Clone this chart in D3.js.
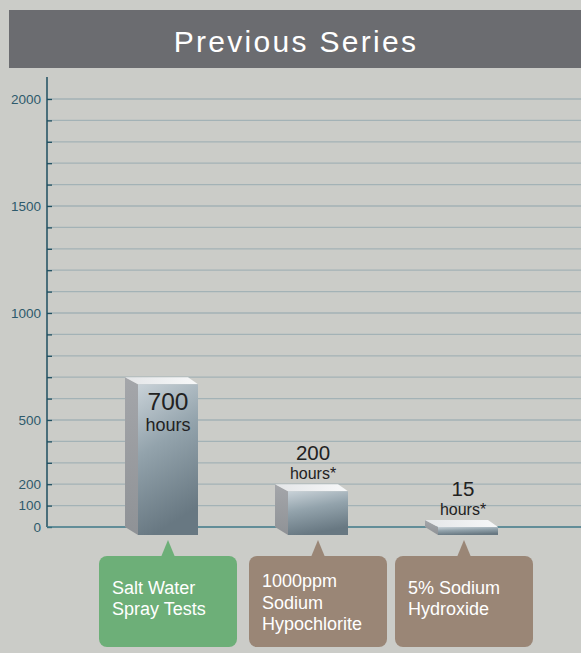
<!DOCTYPE html>
<html>
<head>
<meta charset="utf-8">
<script src="https://cdn.jsdelivr.net/npm/d3@7"></script>
<style>
  html, body { margin: 0; padding: 0; background: #cbccc8; }
  svg { display: block; }
</style>
</head>
<body>
<svg id="chart" width="581" height="653"></svg>
<script>
// ---- data ----
const categories = ["Salt Water Spray Tests", "1000ppm Sodium Hypochlorite", "5% Sodium Hydroxide"];
const values = [700, 200, 15];
const valueLabels = ["700", "200", "15"];
const unitLabels = ["hours", "hours*", "hours*"];
const calloutLines = [["Salt Water", "Spray Tests"], ["1000ppm", "Sodium", "Hypochlorite"], ["5% Sodium", "Hydroxide"]];
const tickLabels = [0, 100, 200, 500, 1000, 1500, 2000];
const title = "Previous Series";

// ---- setup ----
const W = 581, H = 653;
const svg = d3.select("#chart");
const axisX = 47;
const y = d3.scaleLinear().domain([0, 2000]).range([527, 99]);
const x = d3.scaleBand().domain(categories).range([93, 543]).paddingInner(0.6).paddingOuter(0.3);
const depthL = 13, depthR = 10, depthY = 7, minFront = 8;
const fontF = "Liberation Sans, Arial, sans-serif";

// background
svg.append("rect").attr("width", W).attr("height", H).attr("fill", "#cbccc8");

// title bar
svg.append("rect").attr("x", 9).attr("y", 10).attr("width", W - 9).attr("height", 58).attr("fill", "#6b6c70");
svg.append("text").attr("x", 296).attr("y", 52).attr("text-anchor", "middle")
  .attr("font-family", fontF).attr("font-size", 30)
  .attr("letter-spacing", 2.3).attr("fill", "#ffffff").text(title);

// gridlines every 100
const gridVals = d3.range(100, 2001, 100);
svg.append("g").selectAll("line").data(gridVals).join("line")
  .attr("x1", axisX).attr("x2", W)
  .attr("y1", d => y(d)).attr("y2", d => y(d))
  .attr("stroke", "#a3b2b6").attr("stroke-width", 1.3);

// axis with minor ticks every 100 (ticks on inner side)
const axis = d3.axisRight(y).tickValues(d3.range(0, 2001, 100)).tickSize(5).tickFormat("");
const ag = svg.append("g").attr("transform", `translate(${axisX},0)`).call(axis);
ag.select(".domain").remove();
ag.selectAll(".tick line").attr("stroke", "#1f4f60").attr("stroke-width", 1.3);
svg.append("line").attr("x1", axisX).attr("x2", axisX).attr("y1", 77).attr("y2", y(0))
  .attr("stroke", "#1f4f60").attr("stroke-width", 1.5);

// tick labels
const lg = svg.append("g").attr("transform", `translate(${axisX - 6},0)`)
  .call(d3.axisLeft(y).tickValues(tickLabels).tickSize(0).tickPadding(0).tickFormat(d3.format("d")));
lg.select(".domain").remove();
lg.selectAll("text").attr("font-family", fontF)
  .attr("font-size", 13.5).attr("fill", "#2e5a6c");

// baseline
svg.append("line").attr("x1", axisX).attr("x2", W).attr("y1", y(0)).attr("y2", y(0))
  .attr("stroke", "#3f7888").attr("stroke-width", 1.6);

// gradients
const defs = svg.append("defs");
const gf = defs.append("linearGradient").attr("id", "front").attr("x1", 0).attr("y1", 0).attr("x2", 0.25).attr("y2", 1);
gf.append("stop").attr("offset", "0%").attr("stop-color", "#c9d2d8");
gf.append("stop").attr("offset", "45%").attr("stop-color", "#93a3ac");
gf.append("stop").attr("offset", "100%").attr("stop-color", "#687882");
const gs = defs.append("linearGradient").attr("id", "side").attr("x1", 0).attr("y1", 0).attr("x2", 0).attr("y2", 1);
gs.append("stop").attr("offset", "0%").attr("stop-color", "#a4a6aa");
gs.append("stop").attr("offset", "100%").attr("stop-color", "#8f9296");
const gt = defs.append("linearGradient").attr("id", "top").attr("x1", 0).attr("y1", 0).attr("x2", 1).attr("y2", 0);
gt.append("stop").attr("offset", "0%").attr("stop-color", "#e4e6e8");
gt.append("stop").attr("offset", "100%").attr("stop-color", "#f7f8f9");

// bars
const y0f = y(0) + depthY + 1;
const frontTop = v => Math.min(y(v) + depthY, y0f - minFront);
const bars = svg.append("g").selectAll("g").data(categories).join("g");
bars.each(function(c, i) {
  const g = d3.select(this);
  const x0 = x(c), x1 = x(c) + x.bandwidth();
  const yf = frontTop(values[i]);   // front top
  const yb = yf - depthY;           // back top
  const y0b = y(0);
  g.append("path").attr("d", `M${x0 - depthL},${yb} L${x0},${yf} L${x0},${y0f} L${x0 - depthL},${y0b} Z`)
    .attr("fill", "url(#side)");
  g.append("path").attr("d", `M${x0 - depthL},${yb} L${x1 - depthR},${yb} L${x1},${yf} L${x0},${yf} Z`)
    .attr("fill", "url(#top)");
  g.append("rect").attr("x", x0).attr("y", yf).attr("width", x1 - x0).attr("height", y0f - yf)
    .attr("fill", "url(#front)");
});

// value labels
bars.each(function(c, i) {
  const g = d3.select(this);
  const yf = frontTop(values[i]);
  const inside = i === 0;
  const cx = x(c) + x.bandwidth() / 2 - (inside ? 0 : 5);
  const yNum = inside ? yf + 26 : yf - 31;
  const yUnit = inside ? yf + 47 : yf - 12;
  g.append("text").attr("x", cx).attr("y", yNum).attr("text-anchor", "middle")
    .attr("font-family", fontF).attr("font-size", inside ? 24.5 : 20.5).attr("fill", "#222")
    .text(valueLabels[i]);
  g.append("text").attr("x", cx).attr("y", yUnit).attr("text-anchor", "middle")
    .attr("font-family", fontF).attr("font-size", inside ? 18 : 16).attr("fill", "#222")
    .text(unitLabels[i]);
});

// callouts
const boxW = 138, boxTop = 556, boxH = 91;
const colors = ["#6daf78", "#9a8676", "#9a8676"];
const callouts = svg.append("g").selectAll("g").data(categories).join("g");
callouts.each(function(c, i) {
  const g = d3.select(this);
  const cx = x(c) + x.bandwidth() / 2 - (i === 2 ? 4 : 0);
  const bx = cx - boxW / 2;
  g.append("path").attr("d", `M${cx},540 L${cx + 7},${boxTop + 1} L${cx - 7},${boxTop + 1} Z`).attr("fill", colors[i]);
  g.append("rect").attr("x", bx).attr("y", boxTop).attr("width", boxW).attr("height", boxH)
    .attr("rx", 8).attr("fill", colors[i]);
  const lines = calloutLines[i];
  const lh = 21.5;
  const first = boxTop + boxH / 2 + 3 + (lines.length - 2) * 4 - (lines.length - 1) * lh / 2;
  g.append("g").selectAll("text").data(lines).join("text")
    .attr("x", bx + 13).attr("y", (d, k) => first + k * lh)
    .attr("font-family", fontF).attr("font-size", 18).attr("fill", "#ffffff")
    .text(d => d);
});
</script>
</body>
</html>
